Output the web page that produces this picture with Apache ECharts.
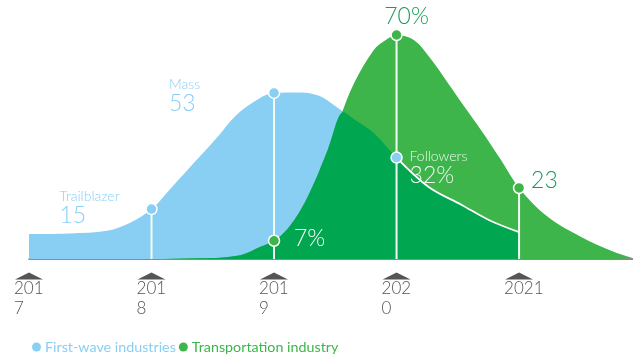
<!DOCTYPE html>
<html>
<head>
<meta charset="utf-8">
<script src="https://cdn.jsdelivr.net/npm/echarts@6/dist/echarts.min.js"></script>
<style>
html,body{margin:0;padding:0;background:#fff;}
#chart{width:633px;height:358px;}
</style>
</head>
<body>
<div id="chart"></div>
<script>
// ---- data ----
const years = [2017, 2018, 2019, 2020, 2021];
const tickLabels = ['201\n7', '201\n8', '201\n9', '202\n0', '2021'];

// First-wave industries (light blue)
const blueX = [2017, 2017.335, 2017.638, 2017.826, 2018, 2018.153, 2018.317, 2018.538, 2018.685, 2018.833, 2019, 2019.217, 2019.299, 2019.39, 2019.499, 2019.569, 2019.626, 2019.814, 2020, 2020.262, 2020.532, 2020.753, 2021];
const blueY = [7.8, 8.0, 8.8, 11.3, 15.6, 21.9, 28.8, 38.1, 44.7, 49.1, 51.9, 52.0, 51.7, 50.6, 47.8, 45.9, 44.4, 39.4, 31.7, 22.5, 16.9, 12.2, 8.4];

// Transportation industry (green)
const greenX = [2017, 2018, 2018.399, 2018.726, 2018.89, 2019, 2019.11, 2019.217, 2019.331, 2019.438, 2019.544, 2019.65, 2019.814, 2019.912, 2020, 2020.141, 2020.28, 2020.419, 2020.55, 2020.689, 2020.853, 2021, 2021.237, 2021.507, 2021.777, 2021.93];
const greenY = [0, 0, 0.2, 1.2, 3.8, 5.7, 9.4, 15.3, 24.1, 34.1, 44.7, 54.7, 65.3, 68.4, 70.0, 68.4, 62.5, 55.0, 47.8, 40.3, 30.9, 22.2, 13.1, 6.9, 2.2, 0.3];

// Where both overlap (dark green)
const overlapX = [2017, 2018, 2018.399, 2018.726, 2018.89, 2019, 2019.11, 2019.217, 2019.331, 2019.438, 2019.569, 2019.626, 2019.814, 2020, 2020.262, 2020.532, 2020.753, 2021];
const overlapY = [0, 0, 0.2, 1.2, 3.8, 5.7, 9.4, 15.3, 24.1, 34.1, 45.9, 44.4, 39.4, 31.7, 22.5, 16.9, 12.2, 8.4];

// annotations
const blueMarkYears = [2018, 2019, 2020];
const blueMarkNames = ['Trailblazer', 'Mass', 'Followers'];
const blueMarkTexts = ['15', '53', '32%'];
const greenMarkYears = [2019, 2020, 2021];
const greenMarkTexts = ['7%', '70%', '23'];

// ---- build ----
const BLUE = '#89cff3', GREEN = '#3db54b', DARK = '#00a650', TEAL = '#1a9a5c';
const FONT = 'Lato';
const zip = (xs, ys) => xs.map((x, i) => [x, ys[i]]);
const valAt = (xs, ys, yr) => ys[xs.indexOf(yr)];

const blueOffsets = [[-92, -2], [-105, 2.5], [13, 10]];
const blueColors = [BLUE, BLUE, '#eef8f0'];
const blueDots = blueMarkYears.map((yr, i) => ({
  value: [yr, valAt(blueX, blueY, yr)],
  label: {
    show: true, position: 'inside', offset: blueOffsets[i], align: 'left', verticalAlign: 'middle',
    formatter: '{n|' + blueMarkNames[i] + '}\n{v|' + blueMarkTexts[i] + '}',
    rich: {
      n: {fontSize: 14, lineHeight: 16, color: blueColors[i], fontFamily: FONT, fontWeight: 300},
      v: {fontSize: 23, lineHeight: 22, color: blueColors[i], fontFamily: FONT, fontWeight: 300}
    }
  }
}));
const greenOffsets = [[20, -2], [10, -18.5], [12, -7.5]];
const greenAligns = ['left', 'center', 'left'];
const greenColors = ['#ffffff', TEAL, TEAL];
const greenDots = greenMarkYears.map((yr, i) => ({
  value: [yr, valAt(greenX, greenY, yr)],
  label: {
    show: true, position: 'inside', offset: greenOffsets[i], align: greenAligns[i], verticalAlign: 'middle',
    formatter: greenMarkTexts[i], fontSize: 23, color: greenColors[i], fontFamily: FONT, fontWeight: 300
  }
}));

const stemYears = years.filter(y => blueMarkYears.includes(y) || greenMarkYears.includes(y));
const stems = stemYears.map(yr => {
  const b = blueMarkYears.includes(yr) ? valAt(blueX, blueY, yr) : 0;
  const g = greenMarkYears.includes(yr) ? valAt(greenX, greenY, yr) : 0;
  return [yr, Math.max(b, g)];
});

const followerIdx = blueX.indexOf(2020);
const followerLine = zip(blueX, blueY).slice(followerIdx);

const chart = echarts.init(document.getElementById('chart'), null, {renderer: 'canvas'});
chart.setOption({
  animation: false,
  grid: {left: 29, right: 0, top: 3, bottom: 99},
  legend: {
    left: 27, top: 335, icon: 'circle', itemWidth: 9, itemHeight: 9, itemGap: 3,
    textStyle: {fontSize: 14.3, fontFamily: FONT, padding: [0, 0, 0, -1]},
    data: [
      {name: 'First-wave industries', textStyle: {color: BLUE}},
      {name: 'Transportation industry', textStyle: {color: GREEN}}
    ]
  },
  xAxis: {
    type: 'value', min: 2017, max: 2021.93, interval: 1, offset: 8,
    splitLine: {show: false},
    axisTick: {show: false},
    axisLine: {show: true, lineStyle: {color: '#666', width: 1.5}},
    axisLabel: {
      show: true, margin: 12, showMinLabel: true, showMaxLabel: false, align: 'center',
      formatter: v => { const i = years.indexOf(v); return i < 0 ? '' : '{t|' + tickLabels[i] + '}'; },
      rich: {t: {width: 30, align: 'left', fontSize: 17, lineHeight: 20, color: '#555', fontFamily: FONT, fontWeight: 300}}
    }
  },
  yAxis: {type: 'value', min: 0, max: 80, show: false, splitLine: {show: false}},
  series: [
    {name: 'First-wave industries', type: 'line', data: zip(blueX, blueY), smooth: 0.35, symbol: 'none',
     itemStyle: {color: BLUE}, lineStyle: {width: 0}, areaStyle: {color: BLUE, opacity: 1}, z: 1},
    {name: 'Transportation industry', type: 'line', data: zip(greenX, greenY), smooth: 0.35, symbol: 'none',
     itemStyle: {color: GREEN}, lineStyle: {width: 0}, areaStyle: {color: GREEN, opacity: 1}, z: 2},
    {name: 'overlap', type: 'line', data: zip(overlapX, overlapY), smooth: 0.35, symbol: 'none',
     itemStyle: {color: DARK}, lineStyle: {width: 0}, areaStyle: {color: DARK, opacity: 1}, z: 3},
    {name: 'followerLine', type: 'line', data: followerLine, smooth: 0.35, symbol: 'none',
     lineStyle: {width: 1.8, color: '#ffffff'}, z: 4},
    {name: 'stems', type: 'bar', data: stems, barWidth: 2, itemStyle: {color: '#f4fbf6'}, z: 5},
    {name: 'blueDots', type: 'scatter', data: blueDots, symbolSize: 11, clip: false,
     itemStyle: {color: BLUE, borderColor: '#fff', borderWidth: 1.5, opacity: 1}, z: 6},
    {name: 'greenDots', type: 'scatter', data: greenDots, symbolSize: 11, clip: false,
     itemStyle: {color: GREEN, borderColor: '#fff', borderWidth: 1.5, opacity: 1}, z: 6},
    {name: 'ticks', type: 'scatter', data: years.map(y => [y, -5.3]), symbol: 'triangle', symbolSize: [28, 7],
     clip: false, itemStyle: {color: '#555', opacity: 1}, silent: true, z: 6}
  ]
});
</script>
</body>
</html>
